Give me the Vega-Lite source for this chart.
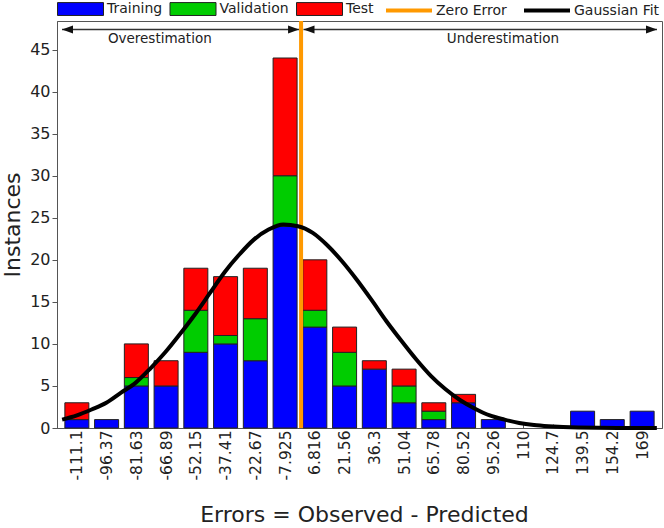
{
  "$schema": "https://vega.github.io/schema/vega-lite/v6.json",
  "width": 605,
  "height": 407,
  "autosize": {"type": "none"},
  "padding": {"left": 57, "top": 21, "right": 2, "bottom": 100},
  "background": "white",
  "config": {
    "font": "DejaVu Sans",
    "view": {"stroke": "#555", "strokeWidth": 1},
    "axis": {"grid": false, "domainColor": "#555", "tickColor": "#555", "labelColor": "#222", "titleColor": "#222", "titleFontWeight": "normal", "labelFont": "DejaVu Sans", "titleFont": "DejaVu Sans"},
    "axisX": {"labelOverlap": false, "labelFlush": false, "labelBound": false, "labelAngle": -90, "labelFontSize": 15.5, "labelPadding": 6, "tickSize": -4, "titleFontSize": 22, "titlePadding": 25},
    "axisY": {"labelFontSize": 16, "tickSize": 5, "labelPadding": 2, "titleFontSize": 22, "titlePadding": 5},
    "legend": {"labelFont": "DejaVu Sans"}
  },
  "datasets": {
    "bars": [
      {"bin": -111.1, "set": "Training", "n": 1}, {"bin": -111.1, "set": "Test", "n": 2},
      {"bin": -96.37, "set": "Training", "n": 1},
      {"bin": -81.63, "set": "Training", "n": 5}, {"bin": -81.63, "set": "Validation", "n": 1}, {"bin": -81.63, "set": "Test", "n": 4},
      {"bin": -66.89, "set": "Training", "n": 5}, {"bin": -66.89, "set": "Test", "n": 3},
      {"bin": -52.15, "set": "Training", "n": 9}, {"bin": -52.15, "set": "Validation", "n": 5}, {"bin": -52.15, "set": "Test", "n": 5},
      {"bin": -37.41, "set": "Training", "n": 10}, {"bin": -37.41, "set": "Validation", "n": 1}, {"bin": -37.41, "set": "Test", "n": 7},
      {"bin": -22.67, "set": "Training", "n": 8}, {"bin": -22.67, "set": "Validation", "n": 5}, {"bin": -22.67, "set": "Test", "n": 6},
      {"bin": -7.925, "set": "Training", "n": 24}, {"bin": -7.925, "set": "Validation", "n": 6}, {"bin": -7.925, "set": "Test", "n": 14},
      {"bin": 6.816, "set": "Training", "n": 12}, {"bin": 6.816, "set": "Validation", "n": 2}, {"bin": 6.816, "set": "Test", "n": 6},
      {"bin": 21.56, "set": "Training", "n": 5}, {"bin": 21.56, "set": "Validation", "n": 4}, {"bin": 21.56, "set": "Test", "n": 3},
      {"bin": 36.3, "set": "Training", "n": 7}, {"bin": 36.3, "set": "Test", "n": 1},
      {"bin": 51.04, "set": "Training", "n": 3}, {"bin": 51.04, "set": "Validation", "n": 2}, {"bin": 51.04, "set": "Test", "n": 2},
      {"bin": 65.78, "set": "Training", "n": 1}, {"bin": 65.78, "set": "Validation", "n": 1}, {"bin": 65.78, "set": "Test", "n": 1},
      {"bin": 80.52, "set": "Training", "n": 3}, {"bin": 80.52, "set": "Test", "n": 1},
      {"bin": 95.26, "set": "Training", "n": 1},
      {"bin": 139.5, "set": "Training", "n": 2},
      {"bin": 154.2, "set": "Training", "n": 1},
      {"bin": 169, "set": "Training", "n": 2}
    ],
    "fit": [
      {"x": -118.4, "y": 1.0}, {"x": -111.1, "y": 1.5}, {"x": -103.8, "y": 2.2}, {"x": -96.5, "y": 3.0},
      {"x": -89.2, "y": 4.2}, {"x": -81.9, "y": 5.4}, {"x": -74.6, "y": 7.1}, {"x": -67.3, "y": 9.0},
      {"x": -59.9, "y": 11.2}, {"x": -52.6, "y": 13.5}, {"x": -45.3, "y": 16.0}, {"x": -38.0, "y": 18.5},
      {"x": -30.7, "y": 20.6}, {"x": -23.4, "y": 22.4}, {"x": -16.1, "y": 23.6}, {"x": -8.8, "y": 24.2},
      {"x": -1.5, "y": 24.0}, {"x": 5.8, "y": 23.2}, {"x": 13.1, "y": 21.7}, {"x": 20.4, "y": 19.8},
      {"x": 27.7, "y": 17.6}, {"x": 35.0, "y": 15.2}, {"x": 42.3, "y": 12.7}, {"x": 49.6, "y": 10.4},
      {"x": 56.9, "y": 8.2}, {"x": 64.3, "y": 6.2}, {"x": 71.6, "y": 4.6}, {"x": 78.9, "y": 3.3},
      {"x": 86.2, "y": 2.3}, {"x": 93.5, "y": 1.5}, {"x": 100.8, "y": 1.0}, {"x": 108.1, "y": 0.6},
      {"x": 115.4, "y": 0.35}, {"x": 122.7, "y": 0.2}, {"x": 137.3, "y": 0.05}, {"x": 156.8, "y": 0.01},
      {"x": 176.3, "y": 0.0}
    ],
    "arrows": [
      {"x": -118.47, "x2": -1, "y": 47.4},
      {"x": 1.2, "x2": 176.37, "y": 47.4}
    ],
    "heads": [
      {"x": -118.47, "dir": "left", "y": 47.4},
      {"x": -1, "dir": "right", "y": 47.4},
      {"x": 1.2, "dir": "left", "y": 47.4},
      {"x": 176.37, "dir": "right", "y": 47.4}
    ],
    "notes": [
      {"x": -70, "y": 45.8, "t": "Overestimation"},
      {"x": 100, "y": 45.8, "t": "Underestimation"}
    ],
    "zero": [{"x": 0}]
  },
  "layer": [
    {
      "data": {"name": "bars"},
      "transform": [{"calculate": "indexof(['Training','Validation','Test'], datum.set)", "as": "ord"}],
      "mark": {"type": "bar", "width": 24, "stroke": "#222", "strokeWidth": 1},
      "encoding": {
        "x": {
          "field": "bin", "type": "quantitative",
          "scale": {"domain": [-118.47, 176.37], "nice": false, "zero": false},
          "axis": {
            "title": "Errors = Observed - Predicted",
            "titleX": 307,
            "values": [-111.1, -96.37, -81.63, -66.89, -52.15, -37.41, -22.67, -7.925, 6.816, 21.56, 36.3, 51.04, 65.78, 80.52, 95.26, 110, 124.7, 139.5, 154.2, 169],
            "tickCount": 40,
            "labelExpr": "'' + datum.value",
            "labelOverlap": false
          }
        },
        "y": {
          "field": "n", "type": "quantitative", "stack": "zero",
          "scale": {"domain": [0, 48.4], "nice": false},
          "axis": {
            "title": "Instances",
            "values": [0, 5, 10, 15, 20, 25, 30, 35, 40, 45],
            "tickCount": 20
          }
        },
        "fill": {
          "field": "set", "type": "nominal",
          "scale": {
            "domain": ["Training", "Validation", "Test"],
            "range": ["#0000FF", "#00CC00", "#FF0000"]
          },
          "legend": {
            "title": null,
            "orient": "none",
            "legendX": 0,
            "legendY": -35.5,
            "direction": "horizontal",
            "padding": 0,
            "labelFontSize": 14,
            "labelColor": "#222",
            "labelOffset": 3,
            "columnPadding": 4.5,
            "symbolSize": 2116,
            "symbolType": "M-1,-0.28H1V0.28H-1Z",
            "symbolStrokeColor": "#222",
            "symbolStrokeWidth": 1,
            "symbolOpacity": 1
          }
        },
        "order": {"field": "ord", "type": "quantitative"}
      }
    },
    {
      "data": {"name": "zero"},
      "mark": {"type": "rule", "strokeWidth": 4},
      "encoding": {
        "x": {"field": "x", "type": "quantitative"},
        "stroke": {
          "datum": "Zero Error", "type": "nominal",
          "scale": {"domain": ["Zero Error", "Gaussian Fit"], "range": ["#FF9900", "#000000"]},
          "legend": {
            "title": null,
            "orient": "none",
            "legendX": 327,
            "legendY": -35.5,
            "direction": "horizontal",
            "padding": 0,
            "labelFontSize": 14,
            "labelColor": "#222",
            "labelOffset": 2,
            "columnPadding": 9,
            "symbolSize": 2116,
            "symbolType": "M-1,0H1",
            "symbolStrokeWidth": 4,
            "symbolOpacity": 1
          }
        }
      }
    },
    {
      "data": {"name": "fit"},
      "mark": {"type": "line", "strokeWidth": 4, "interpolate": "monotone"},
      "encoding": {
        "x": {"field": "x", "type": "quantitative"},
        "y": {"field": "y", "type": "quantitative"},
        "stroke": {"datum": "Gaussian Fit", "type": "nominal"}
      }
    },
    {
      "data": {"name": "arrows"},
      "mark": {"type": "rule", "stroke": "#333", "strokeWidth": 1.5},
      "encoding": {
        "x": {"field": "x", "type": "quantitative"},
        "x2": {"field": "x2"},
        "y": {"field": "y", "type": "quantitative"}
      }
    },
    {
      "data": {"name": "heads"},
      "mark": {"type": "point", "filled": true, "fill": "#111", "stroke": null, "opacity": 1, "size": 121},
      "encoding": {
        "x": {"field": "x", "type": "quantitative"},
        "y": {"field": "y", "type": "quantitative"},
        "shape": {
          "field": "dir", "type": "nominal",
          "scale": {"domain": ["left", "right"], "range": ["M0,0L2,-0.73L2,0.73Z", "M0,0L-2,-0.73L-2,0.73Z"]},
          "legend": null
        }
      }
    },
    {
      "data": {"name": "notes"},
      "mark": {"type": "text", "fontSize": 13.5, "baseline": "alphabetic", "align": "center", "color": "#222", "font": "DejaVu Sans"},
      "encoding": {
        "x": {"field": "x", "type": "quantitative"},
        "y": {"field": "y", "type": "quantitative"},
        "text": {"field": "t"}
      }
    }
  ]
}
